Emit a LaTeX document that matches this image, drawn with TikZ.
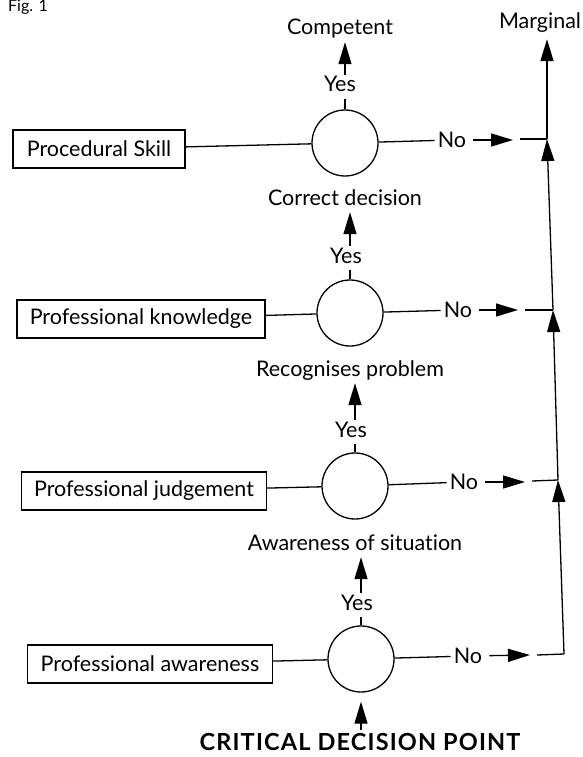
\documentclass[tikz,border=0pt]{standalone}
\usepackage{fontspec}
\setmainfont{Lato}[Ligatures=NoCommon]
\newfontfamily\critfont{Lato}[LetterSpace=5, Ligatures=NoCommon]
\usetikzlibrary{arrows.meta}
\begin{document}
\begin{tikzpicture}[x=1pt,y=-1pt,
  every node/.style={font=\fontsize{21.5}{25}\selectfont},
  lbl/.style={anchor=base, inner sep=3pt, text height=14pt, text depth=4pt},
  nolbl/.style={anchor=center, inner sep=3pt},
  box/.style={draw, line width=1.2pt, inner sep=0pt, minimum height=38pt, anchor=center},
  dec/.style={draw, circle, line width=1.3pt, minimum size=66pt, inner sep=0pt},
  ln/.style={line width=1.3pt},
  arr/.style={line width=1.3pt, -{Triangle[length=22pt,width=13pt]}},
]
\path[use as bounding box] (0,0) rectangle (582,757);

% top labels
\node[lbl, anchor=base west, font=\fontsize{16}{18}\selectfont] (fig) at (5,12) {Fig. 1};
\node[lbl] (comp) at (340,35) {Competent};
\node[lbl] (marg) at (540,29) {Marginal};

% row 1
\node[lbl] (y1) at (340,92) {Yes};
\node[dec] (c1) at (345,143) {};
\node[box, minimum width=172pt] (b1) at (99,149) {Procedural Skill};
\node[nolbl] (n1) at (452,140) {No};
\coordinate (a1) at (513,140);
\coordinate (d1) at (520,139);
\coordinate (j1) at (547,139);

% row 2
\node[lbl] (cd) at (345,205) {Correct decision};
\node[lbl] (y2) at (346,263) {Yes};
\node[dec] (c2) at (350,313) {};
\node[box, minimum width=248pt] (b2) at (141,319) {Professional knowledge};
\node[nolbl] (n2) at (458,310) {No};
\coordinate (a2) at (518,310);
\coordinate (d2) at (525,310);
\coordinate (j2) at (553,310);

% row 3
\node[lbl] (rp) at (350,376) {Recognises problem};
\node[lbl] (y3) at (351,437) {Yes};
\node[dec] (c3) at (355,486) {};
\node[box, minimum width=245pt] (b3) at (144,491) {Professional judgement};
\node[nolbl] (n3) at (464,482) {No};
\coordinate (a3) at (525,482);
\coordinate (d3) at (532,481);
\coordinate (j3) at (558,480);

% row 4
\node[lbl] (aw) at (355,550) {Awareness of situation};
\node[lbl] (y4) at (357,610) {Yes};
\node[dec] (c4) at (361,659) {};
\node[box, minimum width=245pt] (b4) at (150,664) {Professional awareness};
\node[nolbl] (n4) at (468,656) {No};
\coordinate (a4) at (530,655);
\coordinate (d4) at (537,655);
\coordinate (j4) at (564,654);

\node[lbl, text height=17pt, font=\critfont\bfseries\fontsize{23.5}{26}\selectfont] (crit) at (360,750) {CRITICAL DECISION POINT};

% connectors
\foreach \b/\c/\y/\up/\n/\a/\d/\j in {b1/c1/y1/comp/n1/a1/d1/j1, b2/c2/y2/cd/n2/a2/d2/j2, b3/c3/y3/rp/n3/a3/d3/j3, b4/c4/y4/aw/n4/a4/d4/j4}{
  \draw[ln] (\b) -- (\c);
  \draw[ln] (\c.north) -- (\c.north |- \y.south);
  \draw[arr] (\c.north |- \y.north) -- (\c.north |- \up.south);
  \draw[ln] (\c) -- (\n);
  \draw[arr, shorten <=4pt] (\n) -- (\a);
  \draw[ln] (\d) -- (\j);
}
\draw[arr] (j4) -- (j3);
\draw[arr] (j3) -- (j2);
\draw[arr] (j2) -- (j1);
\draw[arr, shorten >=3pt] (j1) -- (j1 |- marg.south);
\draw[arr, shorten >=9pt] (c4.south |- crit.north) -- (c4.south);
\end{tikzpicture}
\end{document}
